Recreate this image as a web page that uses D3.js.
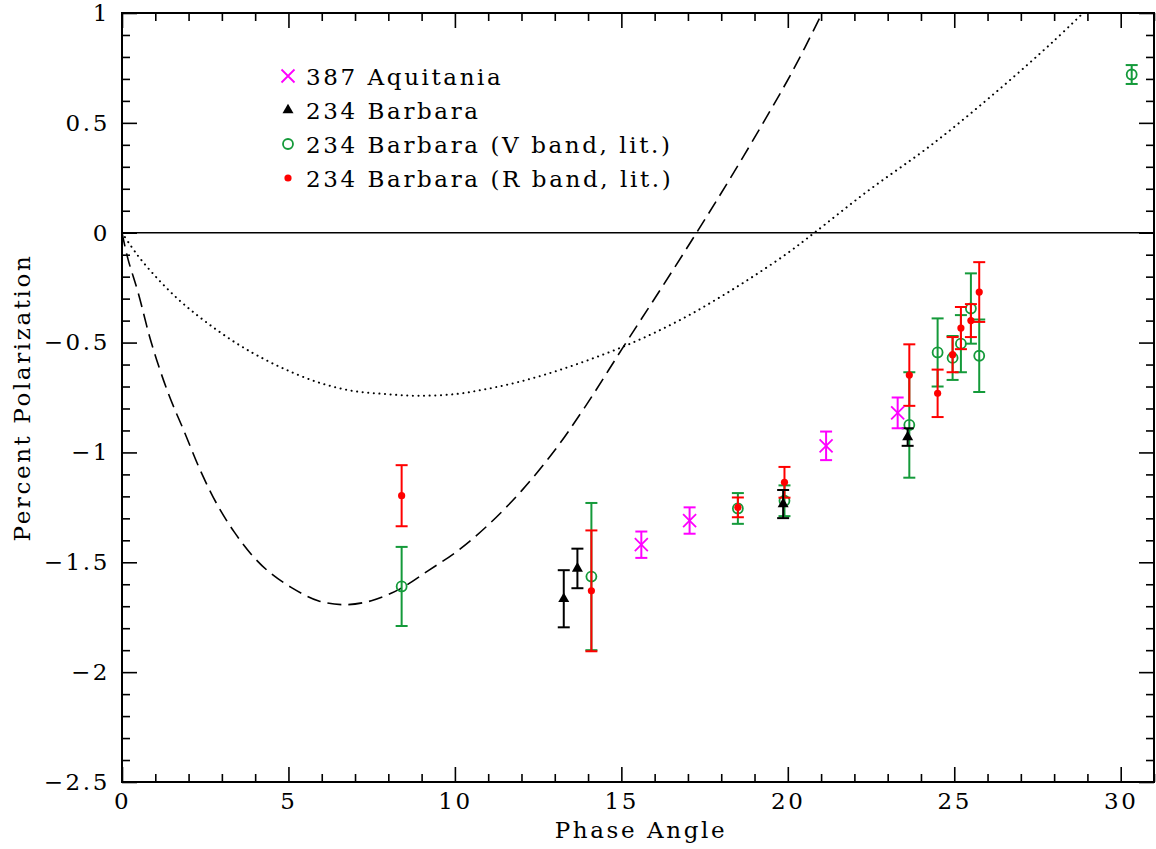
<!DOCTYPE html>
<html lang="en">
<head>
<meta charset="UTF-8">
<title>Percent Polarization vs Phase Angle</title>
<script src="https://d3js.org/d3.v7.min.js"></script>
<style>
    body { margin: 0; background: #fff; }
    text { font-family: "DejaVu Serif", serif; fill: #000; letter-spacing: 2.6px; }
</style>
</head>
<body>
<svg id="chart" width="1156" height="849"></svg>
<script>
// 387 Aquitania (magenta crosses)
const aqX = [15.6, 17.05, 21.15, 23.3];
const aqY = [-1.42, -1.31, -0.97, -0.82];
const aqE = [0.06, 0.06, 0.065, 0.07];

// 234 Barbara (black triangles)
const baX = [13.27, 13.68, 19.86, 23.6];
const baY = [-1.666, -1.528, -1.235, -0.93];
const baE = [0.13, 0.09, 0.064, 0.04];

// 234 Barbara V band, literature (green circles)
const vX = [8.4, 14.1, 18.5, 19.9, 23.65, 24.5, 24.95, 25.2, 25.5, 25.75, 30.33];
const vY = [-1.61, -1.565, -1.255, -1.22, -0.875, -0.545, -0.57, -0.505, -0.345, -0.56, 0.72];
const vE = [0.18, 0.335, 0.07, 0.07, 0.24, 0.155, 0.10, 0.13, 0.16, 0.165, 0.043];

// 234 Barbara R band, literature (red dots)
const rX = [8.4, 14.1, 18.5, 19.9, 23.65, 24.5, 24.95, 25.2, 25.5, 25.75];
const rY = [-1.197, -1.63, -1.25, -1.136, -0.648, -0.731, -0.555, -0.434, -0.40, -0.27];
const rE = [0.139, 0.275, 0.045, 0.07, 0.14, 0.108, 0.08, 0.096, 0.075, 0.136];

// dashed model curve
const dashX = [0, 0.18, 0.48, 0.88, 1.38, 1.88, 2.38, 2.88, 3.38, 3.88, 4.38, 5.08, 5.89, 6.69, 7.49, 8.34, 9.19, 10.09, 11.0, 12.0, 13.0, 13.9, 15.05, 16.16, 17.26, 18.26, 19.26, 20.16, 21.0];
const dashY = [0, -0.12, -0.27, -0.50, -0.727, -0.909, -1.091, -1.243, -1.364, -1.463, -1.539, -1.614, -1.675, -1.693, -1.675, -1.622, -1.539, -1.447, -1.33, -1.175, -0.99, -0.795, -0.522, -0.262, 0.0, 0.245, 0.5, 0.74, 0.99];

// dotted model curve
const dotX = [0, 0.48, 1.08, 1.68, 2.28, 2.88, 3.48, 4.08, 4.89, 5.89, 6.89, 7.89, 8.89, 10.04, 11.0, 12.0, 13.0, 14.0, 15.0, 16.0, 17.0, 18.0, 19.0, 20.0, 20.8, 22.36, 24.36, 26.37, 27.97, 28.87];
const dotY = [0, -0.105, -0.211, -0.302, -0.378, -0.446, -0.507, -0.56, -0.621, -0.681, -0.719, -0.734, -0.742, -0.734, -0.71, -0.676, -0.632, -0.58, -0.522, -0.455, -0.378, -0.29, -0.195, -0.092, 0.0, 0.185, 0.405, 0.655, 0.87, 1.0];

const xMajor = [0, 5, 10, 15, 20, 25, 30];
const yMajor = [1, 0.5, 0, -0.5, -1, -1.5, -2, -2.5];

const legendNames = ["387 Aquitania", "234 Barbara", "234 Barbara (V band, lit.)", "234 Barbara (R band, lit.)"];

const MAGENTA = "#ff00ff", GREEN = "#149a3a", RED = "#ff0000", BLACK = "#000";

const margin = { top: 13, right: 2, bottom: 67, left: 122 };
const W = 1156 - margin.left - margin.right;
const H = 849 - margin.top - margin.bottom;

const svg = d3.select("#chart");
const g = svg.append("g").attr("transform", `translate(${margin.left},${margin.top})`);

const x = d3.scaleLinear().domain([0, 31]).range([0, W]);
const y = d3.scaleLinear().domain([-2.5, 1]).range([H, 0]);

const fmt = d => (d < 0 ? "\u2212" : "") + Math.abs(d);

// minor ticks
const xMinor = d3.range(0, 32, 1).filter(v => v % 5 !== 0);
const yMinor = d3.range(-25, 11, 1).map(v => v / 10).filter(v => Math.round(v * 10) % 5 !== 0);

function axisStyle(sel) {
    sel.select(".domain").remove();
    sel.selectAll("line").attr("stroke", "#000").attr("stroke-width", 1.6);
    sel.selectAll("text").style("font-size", "23px").style("font-family", "DejaVu Serif, serif");
}

// bottom
g.append("g").attr("transform", `translate(0,${H})`)
    .call(d3.axisBottom(x).tickValues(xMajor).tickSize(-15).tickPadding(11).tickFormat(fmt)).call(axisStyle);
g.append("g").attr("transform", `translate(0,${H})`)
    .call(d3.axisBottom(x).tickValues(xMinor).tickSize(-8).tickFormat("")).call(axisStyle);
// top
g.append("g").call(d3.axisTop(x).tickValues(xMajor).tickSize(-15).tickFormat("")).call(axisStyle);
g.append("g").call(d3.axisTop(x).tickValues(xMinor).tickSize(-8).tickFormat("")).call(axisStyle);
// left
g.append("g")
    .call(d3.axisLeft(y).tickValues(yMajor).tickSize(-15).tickPadding(12).tickFormat(fmt)).call(axisStyle);
g.append("g").call(d3.axisLeft(y).tickValues(yMinor).tickSize(-8).tickFormat("")).call(axisStyle);
// right
g.append("g").attr("transform", `translate(${W},0)`)
    .call(d3.axisRight(y).tickValues(yMajor).tickSize(-15).tickFormat("")).call(axisStyle);
g.append("g").attr("transform", `translate(${W},0)`)
    .call(d3.axisRight(y).tickValues(yMinor).tickSize(-8).tickFormat("")).call(axisStyle);

// frame
g.append("rect").attr("width", W).attr("height", H)
    .attr("fill", "none").attr("stroke", "#000").attr("stroke-width", 2);

// zero line
g.append("line").attr("x1", 0).attr("x2", W).attr("y1", y(0)).attr("y2", y(0))
    .attr("stroke", "#000").attr("stroke-width", 1.5);

// clip for the model curves
svg.append("defs").append("clipPath").attr("id", "clip")
    .append("rect").attr("width", W).attr("height", H);

const line = d3.line().x(d => x(d[0])).y(d => y(d[1])).curve(d3.curveCatmullRom);

g.append("path").datum(d3.zip(dashX, dashY))
    .attr("clip-path", "url(#clip)")
    .attr("d", line).attr("fill", "none").attr("stroke", "#000")
    .attr("stroke-width", 1.6).attr("stroke-dasharray", "14,7");

g.append("path").datum(d3.zip(dotX, dotY))
    .attr("clip-path", "url(#clip)")
    .attr("d", line).attr("fill", "none").attr("stroke", "#000")
    .attr("stroke-width", 2).attr("stroke-linecap", "round").attr("stroke-dasharray", "0.1,5.5");

// error bars
function errorBars(xs, ys, es, color) {
    const data = d3.zip(xs, ys, es);
    const eg = g.append("g").attr("stroke", color).attr("stroke-width", 2);
    eg.selectAll(".v").data(data).enter().append("line")
        .attr("x1", d => x(d[0])).attr("x2", d => x(d[0]))
        .attr("y1", d => y(d[1] + d[2])).attr("y2", d => y(d[1] - d[2]));
    [1, -1].forEach(s => {
        eg.selectAll(".c" + s).data(data).enter().append("line")
            .attr("x1", d => x(d[0]) - 6).attr("x2", d => x(d[0]) + 6)
            .attr("y1", d => y(d[1] + s * d[2])).attr("y2", d => y(d[1] + s * d[2]));
    });
}

function crossPath(cx, cy, r) {
    return `M${cx - r},${cy - r}L${cx + r},${cy + r}M${cx - r},${cy + r}L${cx + r},${cy - r}`;
}
function triPath(cx, cy, r) {
    return `M${cx},${cy - r * 1.15}L${cx + r},${cy + r * 0.6}L${cx - r},${cy + r * 0.6}Z`;
}

// green V band
errorBars(vX, vY, vE, GREEN);
g.selectAll(".vpt").data(d3.zip(vX, vY)).enter().append("circle")
    .attr("cx", d => x(d[0])).attr("cy", d => y(d[1])).attr("r", 5)
    .attr("fill", "none").attr("stroke", GREEN).attr("stroke-width", 1.8);

// red R band
errorBars(rX, rY, rE, RED);
g.selectAll(".rpt").data(d3.zip(rX, rY)).enter().append("circle")
    .attr("cx", d => x(d[0])).attr("cy", d => y(d[1])).attr("r", 3.6)
    .attr("fill", RED);

// black Barbara
errorBars(baX, baY, baE, BLACK);
g.selectAll(".bpt").data(d3.zip(baX, baY)).enter().append("path")
    .attr("d", d => triPath(x(d[0]), y(d[1]), 5.5)).attr("fill", BLACK);

// magenta Aquitania
errorBars(aqX, aqY, aqE, MAGENTA);
g.selectAll(".apt").data(d3.zip(aqX, aqY)).enter().append("path")
    .attr("d", d => crossPath(x(d[0]), y(d[1]), 6.5))
    .attr("stroke", MAGENTA).attr("stroke-width", 1.8).attr("fill", "none");

// legend
const lg = svg.append("g");
const lx = 288, ly0 = 76, ldy = 34;
legendNames.forEach((name, i) => {
    const cy = ly0 + i * ldy;
    if (i === 0) lg.append("path").attr("d", crossPath(lx, cy, 6.5)).attr("stroke", MAGENTA).attr("stroke-width", 1.8);
    if (i === 1) lg.append("path").attr("d", triPath(lx, cy, 5.5)).attr("fill", BLACK);
    if (i === 2) lg.append("circle").attr("cx", lx).attr("cy", cy).attr("r", 5).attr("fill", "none").attr("stroke", GREEN).attr("stroke-width", 1.8);
    if (i === 3) lg.append("circle").attr("cx", lx).attr("cy", cy).attr("r", 3.6).attr("fill", RED);
    lg.append("text").attr("x", 306).attr("y", cy + 8.5).style("font-size", "23px").text(name);
});

// axis titles
svg.append("text").attr("x", margin.left + W / 2 + 3).attr("y", 838)
    .attr("text-anchor", "middle").style("font-size", "23px").text("Phase Angle");
svg.append("text").attr("transform", `translate(30,${margin.top + H / 2}) rotate(-90)`)
    .attr("text-anchor", "middle").style("font-size", "23px").text("Percent Polarization");
</script>
</body>
</html>
